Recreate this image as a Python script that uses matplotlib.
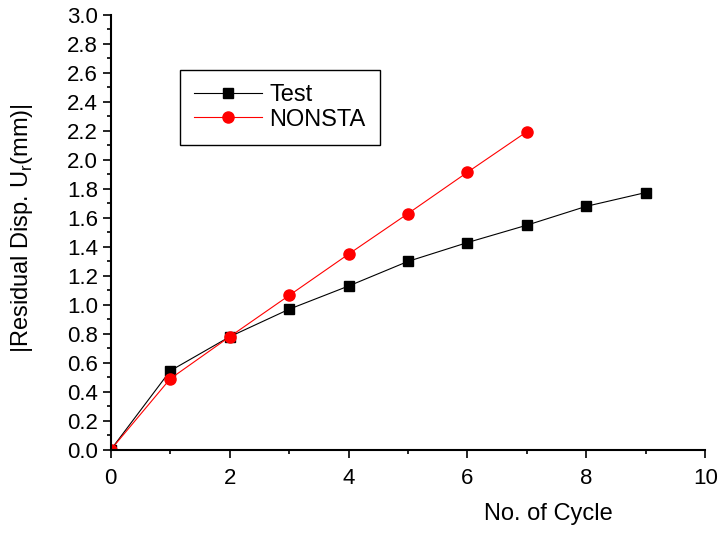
import matplotlib.pyplot as plt

plt.rcParams['font.family'] = ['Liberation Sans', 'DejaVu Sans']

# Dados
ciclos_test = [0, 1, 2, 3, 4, 5, 6, 7, 8, 9]
residual_test = [0.0, 0.545, 0.78, 0.97, 1.13, 1.30, 1.43, 1.55, 1.68, 1.775]
ciclos_nonsta = [0, 1, 2, 3, 4, 5, 6, 7]
residual_nonsta = [0.0, 0.49, 0.78, 1.065, 1.35, 1.63, 1.915, 2.195]

fig = plt.figure(figsize=(7.19, 5.33), dpi=100)
ax = fig.add_axes([0.154, 0.156, 0.827, 0.816])

ax.plot(ciclos_test, residual_test, marker='s', linestyle='-', color='black',
        lw=0.8, markersize=7, label='Test')
ax.plot(ciclos_nonsta, residual_nonsta, marker='o', linestyle='-', color='red',
        lw=0.8, markersize=8, label='NONSTA')

ax.set_xlim(0, 10)
ax.set_ylim(0, 3.0)
ax.set_xticks(range(0, 11, 2))
ax.set_xticks(range(1, 10, 2), minor=True)
ax.set_yticks([i * 0.2 for i in range(16)])
ax.set_yticks([0.1 + i * 0.2 for i in range(15)], minor=True)
ax.set_yticklabels([f'{i * 0.2:.1f}' for i in range(16)])

for s in ['top', 'right']:
    ax.spines[s].set_visible(False)
for s in ['left', 'bottom']:
    ax.spines[s].set_linewidth(1.5)
ax.tick_params(which='major', direction='out', length=6, width=1.2, labelsize=16)
ax.tick_params(which='minor', direction='out', length=3, width=1.2)
ax.tick_params(axis='x', pad=7)
ax.tick_params(axis='y', pad=3)

ax.set_ylabel('|Residual Disp. U$_\\mathregular{r}$(mm)|', fontsize=17)
ax.yaxis.set_label_coords(-0.128, 0.51)
ax.set_xlabel('No. of Cycle', fontsize=17)
ax.xaxis.set_label_coords(0.736, -0.122)

leg = ax.legend(loc='upper left', bbox_to_anchor=(0.116, 0.874), fontsize=17,
                fancybox=False, edgecolor='black', framealpha=1,
                handlelength=2.9, handletextpad=0.3, borderpad=0.6,
                borderaxespad=0, labelspacing=0.12)
leg.get_frame().set_linewidth(1.0)

fig.savefig('out.png', dpi=100)
